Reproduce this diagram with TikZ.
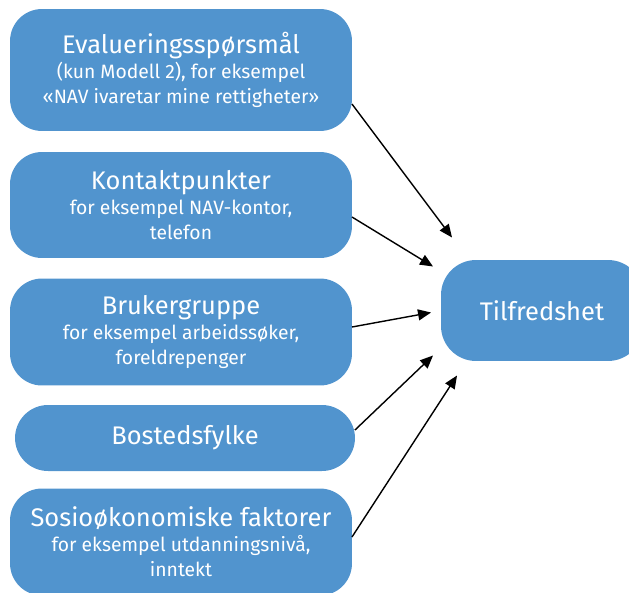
\documentclass[tikz,border=0pt]{standalone}
\usepackage{fontspec}
\setmainfont{Fira Sans}
\usetikzlibrary{arrows.meta,calc}
\definecolor{navblue}{RGB}{81,148,206}
\newcommand{\ttl}{\fontsize{14.5}{17}\selectfont}

\begin{document}
\begin{tikzpicture}[x=0.02cm,y=-0.02cm,
  box/.style={fill=navblue, text=white, rounded corners=0.64cm, align=center,
    inner sep=0pt, outer sep=0pt, minimum width=6.84cm,
    font=\fontsize{11}{14.3}\selectfont},
  arr/.style={-{Triangle[length=0.26cm,width=0.22cm]}, line width=0.8pt}]
\useasboundingbox (0,0) rectangle (629,592);
\node[box, minimum height=2.44cm] (eval) at (181,70)
  {{\ttl Evalueringsspørsmål}\\(kun Modell 2), for eksempel\\«NAV ivaretar mine rettigheter»};
\node[box, minimum height=2.12cm] (kontakt) at (181,205)
  {{\ttl Kontaktpunkter}\\for eksempel NAV-kontor,\\telefon};
\node[box, minimum height=2.14cm] (bruker) at (181,332)
  {{\ttl Brukergruppe}\\for eksempel arbeidssøker,\\foreldrepenger};
\node[box, minimum height=1.32cm, minimum width=6.8cm, rounded corners=0.66cm] (bosted) at (185,438)
  {\ttl Bostedsfylke};
\node[box, minimum height=2.14cm] (sosio) at (181,542)
  {{\ttl Sosioøkonomiske faktorer}\\for eksempel utdanningsnivå,\\inntekt};
\node[box, minimum height=2.02cm, minimum width=4.04cm, rounded corners=0.7cm] (tilf) at (542,310.5)
  {\ttl Tilfredshet};
% piler inn mot tilfredshet
\draw[arr] ($(eval.east)+(0,34)$) -- ($(tilf.west)+(11,-73)$);
\draw[arr] ($(kontakt.east)+(0,12)$) -- ($(tilf.west)+(-8,-44)$);
\draw[arr] ($(bruker.east)+(0,-5)$) -- ($(tilf.west)+(-10,2)$);
\draw[arr] ($(bosted.east)+(0,-8)$) -- ($(tilf.west)+(-8,45)$);
\draw[arr] ($(sosio.east)+(0,-5)$) -- ($(tilf.west)+(16,65)$);
\end{tikzpicture}
\end{document}
